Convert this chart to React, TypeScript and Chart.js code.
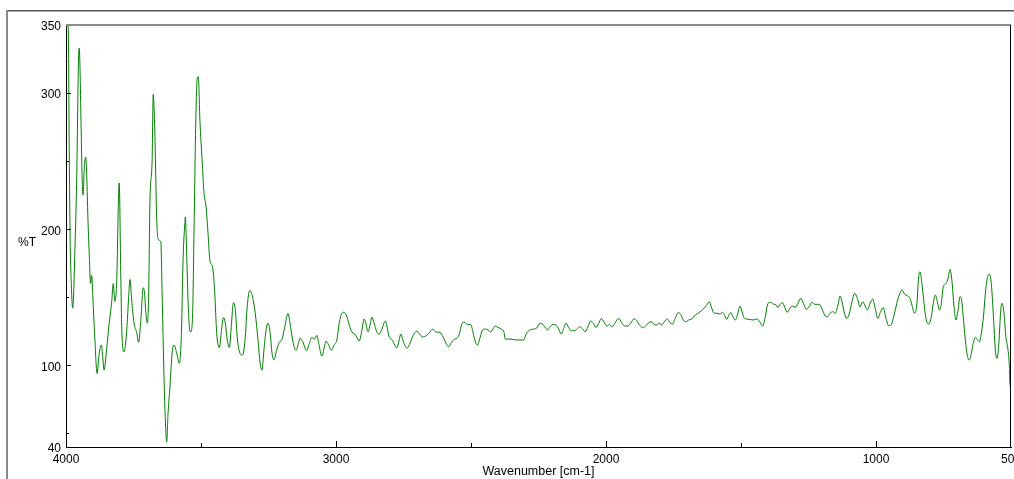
import React, { useEffect, useRef } from 'react';
import { Chart, registerables } from 'chart.js';

Chart.register(...registerables);

// ---- Data (wavenumber in cm-1, transmittance in %T) ----
const wnRegion1 = [
  4000, 3992, 3988, 3985, 3981, 3975, 3967, 3960, 3954, 3951,
  3944, 3941, 3937, 3932, 3927, 3923, 3919, 3914, 3909, 3905,
  3899, 3893, 3885, 3877, 3869, 3864, 3859, 3849, 3840, 3831,
  3825, 3819, 3812, 3805, 3803, 3797, 3793, 3785, 3775, 3768,
  3763, 3756, 3748, 3738, 3731, 3723, 3714, 3709, 3704, 3699,
  3694, 3689, 3681, 3677, 3671, 3664, 3657, 3649, 3644, 3637,
  3630, 3627, 3622, 3615, 3607, 3600, 3590, 3580, 3573, 3566,
  3560, 3558, 3553, 3548, 3543, 3538, 3531, 3526, 3519, 3514,
  3510, 3504, 3496, 3489, 3481, 3474, 3467, 3457, 3449, 3442,
  3432, 3425, 3417, 3410, 3403, 3395, 3388, 3380, 3373, 3366,
  3356, 3346, 3336, 3329, 3319, 3309, 3299, 3289, 3281, 3274,
  3267, 3259, 3252, 3244, 3237, 3230, 3220, 3210, 3200, 3190,
  3178, 3168, 3158, 3148, 3138,
];
const tRegion1 = [
  350, 350, 258, 197, 163, 142, 185, 241, 322, 333,
  275, 243, 225, 246, 253, 238, 209, 182, 160, 166,
  143, 119, 94, 109, 115, 106, 96.5, 113, 131, 146,
  160, 147, 163, 227, 234, 165, 124, 110, 126, 150,
  163, 146, 131, 124, 117, 133, 157, 153, 138, 131,
  150, 221, 251, 299, 271, 207, 192, 191, 153, 91,
  50, 43.6, 65, 84, 109, 115, 109, 101.5, 121, 180,
  204, 209, 182, 148, 128, 124.5, 138, 197, 282, 311,
  312, 280, 251, 227, 216, 197, 177, 172, 153, 124,
  113, 124, 135, 131, 119, 113, 128, 146, 141, 121,
  109, 107.5, 121, 143, 155, 150, 138, 119, 101.5, 96.5,
  111, 126, 131, 124, 109, 104, 111, 117, 119, 128,
  138, 128, 116, 111, 117,
];

const wnRegion2 = [
  3133, 3123, 3109, 3099, 3089, 3081, 3071, 3064, 3052, 3044,
  3037, 3030, 3017, 3007, 2997, 2988, 2978, 2970, 2960, 2953,
  2943, 2931, 2921, 2914, 2904, 2896, 2891, 2881, 2874, 2867,
  2859, 2849, 2840, 2830, 2817, 2810, 2803, 2793, 2785, 2775,
  2768, 2760, 2753, 2746, 2736, 2726, 2714, 2701, 2691, 2679,
  2664, 2652, 2642, 2630, 2615, 2603, 2593, 2583, 2573, 2563,
  2551, 2543, 2533, 2523, 2514, 2501, 2493, 2484, 2476, 2467,
  2457, 2447, 2437, 2427, 2417, 2410, 2400, 2388, 2378, 2373,
  2356, 2331, 2306, 2294, 2281, 2269, 2257,
];
const tRegion2 = [
  120, 117.3, 110.7, 116, 120.6, 119, 122, 116, 106.8, 112.7,
  117.8, 116, 111, 114.9, 118.5, 131, 138.4, 139, 136, 131,
  125, 123, 120, 117.8, 126, 134, 132, 124.6, 129.6, 135.4,
  131, 124.6, 123, 126.6, 132.6, 127.3, 120.7, 119, 116, 112.7,
  117, 123, 119, 115, 112.7, 116.3, 122, 125.2, 123, 120.8,
  122, 124.5, 126.6, 124.5, 124.2, 120.7, 116.3, 113.7, 116.6, 119,
  120, 123, 130.8, 131.6, 130, 130, 124.6, 117.3, 114.9, 120,
  126, 126.6, 126, 124.5, 127.3, 128.8, 127.8, 126.6, 124.5, 119.3,
  119.3, 118.6, 118.6, 123.7, 126, 126.6, 127.3,
];

const wnRegion3 = [
  2244, 2234, 2227, 2217, 2207, 2197, 2185, 2175, 2166, 2156,
  2148, 2138, 2129, 2116, 2106, 2096, 2086, 2077, 2067, 2057,
  2047, 2037, 2027, 2017, 2007, 1997, 1988, 1978, 1968, 1953,
  1943, 1933, 1921, 1909, 1896, 1886, 1877, 1862, 1852, 1842,
  1832, 1822, 1812, 1803, 1795, 1785, 1773, 1763, 1753, 1743,
  1733, 1723, 1714, 1704, 1694, 1681, 1669, 1654, 1640, 1627,
  1617, 1610, 1602, 1590, 1578, 1568, 1560, 1553, 1546, 1538,
  1531, 1521, 1511, 1504, 1496, 1489, 1479, 1467, 1454, 1442,
  1432, 1420, 1410, 1400, 1390, 1380, 1370, 1363,
];
const tRegion3 = [
  131, 130, 128.3, 126, 128.3, 130, 129.6, 126.6, 123, 127.6,
  131, 127.6, 125.4, 125.4, 127.1, 128.3, 126.6, 124.6, 128.3, 132.5,
  130.8, 127.9, 130.8, 134.5, 131.6, 128.8, 130, 128.3, 130.8, 134.5,
  131.6, 129.1, 128.8, 130.8, 134.2, 132.8, 130, 127.6, 129.1, 131.3,
  132, 130, 129.6, 131.3, 129.6, 131.8, 134, 131.3, 130.3, 135,
  138.6, 137.5, 133.3, 132, 133.3, 134.2, 137, 138.9, 141.3, 144.3,
  146.7, 143, 138.9, 138.2, 137.7, 138.9, 136.4, 133.7, 136.4, 138.9,
  136.2, 133.3, 138.6, 143.5, 139.4, 135, 134, 133.7, 133.3, 134,
  132.5, 128.8, 135.7, 145.5, 146.2, 145, 144.3, 142.3,
];

const wnRegion4 = [
  1356, 1346, 1338, 1329, 1319, 1309, 1299, 1289, 1279, 1269,
  1257, 1247, 1237, 1227, 1217, 1207, 1197, 1188, 1180, 1170,
  1160, 1151, 1141, 1133, 1126, 1116, 1109, 1099, 1089, 1079,
  1069, 1059, 1049, 1040, 1032, 1022, 1012, 1003, 993, 983,
  973, 963, 953, 943, 933, 923, 914, 904, 894, 884,
  874, 867, 857, 849, 842, 837, 830, 822, 815, 805,
  795, 788, 780, 773, 765, 758, 751, 741, 733, 726,
  719, 711, 704, 696, 689, 684, 677, 669, 662, 654,
  647, 640, 632, 625, 617, 610, 602, 595, 588, 580,
  573, 565, 558, 552, 545, 538, 533, 526, 519, 511,
  506, 504, 501,
];
const tRegion4 = [
  144.8, 146, 142.6, 138.9, 141.8, 143.5, 142.6, 145.5, 149.2, 145.5,
  141.1, 143.5, 146.3, 144.8, 144.8, 144.3, 140.1, 136.2, 135.7, 138.2,
  139.4, 138.2, 144.3, 150.9, 146.7, 137.7, 134.5, 137.7, 146.7, 152.9,
  149.2, 143, 146.7, 143.5, 140.6, 145.5, 148.7, 141.8, 134.5, 139.4,
  142.3, 134.5, 129.1, 130, 136.9, 145.5, 151.6, 155.3, 152.3, 151.1,
  149.2, 144.3, 138.2, 144.3, 165, 168.7, 160.2, 145.5, 134.5, 130.3,
  135.7, 145.5, 151.6, 146.7, 140.6, 145.5, 157.7, 160.2, 163.9, 170.5,
  162.6, 143, 133.3, 140.6, 150.4, 149.2, 135.7, 118.6, 107.5, 103.9,
  108.8, 116.1, 120.5, 119, 117.3, 123.4, 135.7, 152.9, 163.9, 167,
  160.2, 135.7, 111.2, 105.1, 116.1, 140.6, 145.5, 138.2, 121, 111.2,
  99, 86.7, 84,
];

const xTickValues = [4000, 3500, 3000, 2500, 2000, 1500, 1000, 500];
const xTickLabels = [4000, 3000, 2000, 1000, 500];
const yTickValues = [40, 50, 100, 150, 200, 250, 300, 350];
const yTickLabels = [40, 100, 200, 300, 350];
const xTitle = 'Wavenumber [cm-1]';
const yTitle = '%T';

const FONT = '"Liberation Sans", Arial, sans-serif';

const decorPlugin = {
  id: 'decor',
  beforeDraw(chart: any) {
    const ctx = chart.ctx;
    ctx.save();
    ctx.fillStyle = '#ffffff';
    ctx.fillRect(0, 0, chart.width, chart.height);
    ctx.fillStyle = '#555555';
    ctx.fillRect(6, 10, chart.width, 1);
    ctx.fillStyle = '#a8a8a8';
    ctx.fillRect(6, 11, chart.width, 1);
    ctx.fillStyle = '#8a8a8a';
    ctx.fillRect(6, 10, 2, chart.height);
    ctx.restore();
  },
  afterDraw(chart: any) {
    const { ctx, chartArea: a, scales } = chart;
    const x = scales.x;
    const y = scales.y;
    ctx.save();
    ctx.fillStyle = '#8c8c8c';
    ctx.fillRect(a.left, a.top - 1, a.right - a.left, 2);
    ctx.fillStyle = '#000000';
    ctx.fillRect(a.right - 1, a.top, 1, a.bottom - a.top);
    ctx.strokeStyle = '#000000';
    ctx.lineWidth = 1;
    ctx.beginPath();
    for (const v of xTickValues) {
      if (v === 4000 || v === 500) continue;
      const px = Math.round(x.getPixelForValue(v)) + 0.5;
      const len = xTickLabels.includes(v) ? 6 : 4;
      ctx.moveTo(px, a.bottom);
      ctx.lineTo(px, a.bottom - len);
    }
    for (const v of yTickValues) {
      if (v === 40 || v === 350) continue;
      const py = Math.round(y.getPixelForValue(v)) + 0.5;
      const len = yTickLabels.includes(v) ? 5 : 3;
      ctx.moveTo(a.left, py);
      ctx.lineTo(a.left + len, py);
    }
    ctx.stroke();
    ctx.fillStyle = '#000000';
    ctx.font = '12px ' + FONT;
    ctx.textBaseline = 'middle';
    ctx.textAlign = 'left';
    ctx.fillText(yTitle, 18, 243);
    ctx.restore();
  },
};

export default function App() {
  const canvasRef = useRef<HTMLCanvasElement | null>(null);

  useEffect(() => {
    const canvas = canvasRef.current;
    if (!canvas) return;
    const wavenumbers = [...wnRegion1, ...wnRegion2, ...wnRegion3, ...wnRegion4];
    const transmittance = [...tRegion1, ...tRegion2, ...tRegion3, ...tRegion4];
    const points = wavenumbers.map((w, i) => ({ x: w, y: transmittance[i] }));

    const chart = new Chart(canvas, {
      type: 'line',
      data: {
        datasets: [
          {
            data: points,
            borderColor: '#008000',
            borderWidth: 1,
            pointRadius: 0,
            fill: false,
            cubicInterpolationMode: 'monotone',
          },
        ],
      },
      options: {
        responsive: false,
        animation: false,
        devicePixelRatio: 1,
        layout: { padding: { top: 25, right: 19, left: 0, bottom: 0 } },
        plugins: { legend: { display: false }, tooltip: { enabled: false } },
        scales: {
          x: {
            type: 'linear',
            reverse: true,
            min: 500,
            max: 4000,
            afterBuildTicks: (s: any) => {
              s.ticks = xTickValues.map((v) => ({ value: v }));
            },
            afterFit: (s: any) => {
              s.height = 32;
            },
            grid: { display: false, drawTicks: false, tickLength: 0 },
            border: { display: true, color: '#000000', width: 1 },
            ticks: {
              autoSkip: false,
              maxRotation: 0,
              padding: 5,
              color: '#000000',
              font: { family: FONT, size: 12 },
              callback: (v: any) => (xTickLabels.includes(Number(v)) ? String(v) : ''),
            },
            title: {
              display: true,
              text: xTitle,
              color: '#000000',
              font: { family: FONT, size: 12.5 },
              padding: { top: 0, bottom: 0 },
            },
          },
          y: {
            type: 'linear',
            min: 40,
            max: 350,
            afterBuildTicks: (s: any) => {
              s.ticks = yTickValues.map((v) => ({ value: v }));
            },
            afterFit: (s: any) => {
              s.width = 66;
            },
            grid: { display: false, drawTicks: false, tickLength: 0 },
            border: { display: true, color: '#000000', width: 1 },
            ticks: {
              autoSkip: false,
              padding: 5,
              labelOffset: 2,
              color: '#000000',
              font: { family: FONT, size: 12 },
              callback: (v: any) => (yTickLabels.includes(Number(v)) ? String(v) : ''),
            },
          },
        },
      },
      plugins: [decorPlugin],
    } as any);

    return () => {
      chart.destroy();
    };
  }, []);

  return (
    <div style={{ position: 'fixed', left: 0, top: 0, right: 0, bottom: 0, overflow: 'hidden', background: '#fff' }}>
      <canvas ref={canvasRef} width={1030} height={479} style={{ display: 'block', width: 1030, height: 479 }} />
    </div>
  );
}
